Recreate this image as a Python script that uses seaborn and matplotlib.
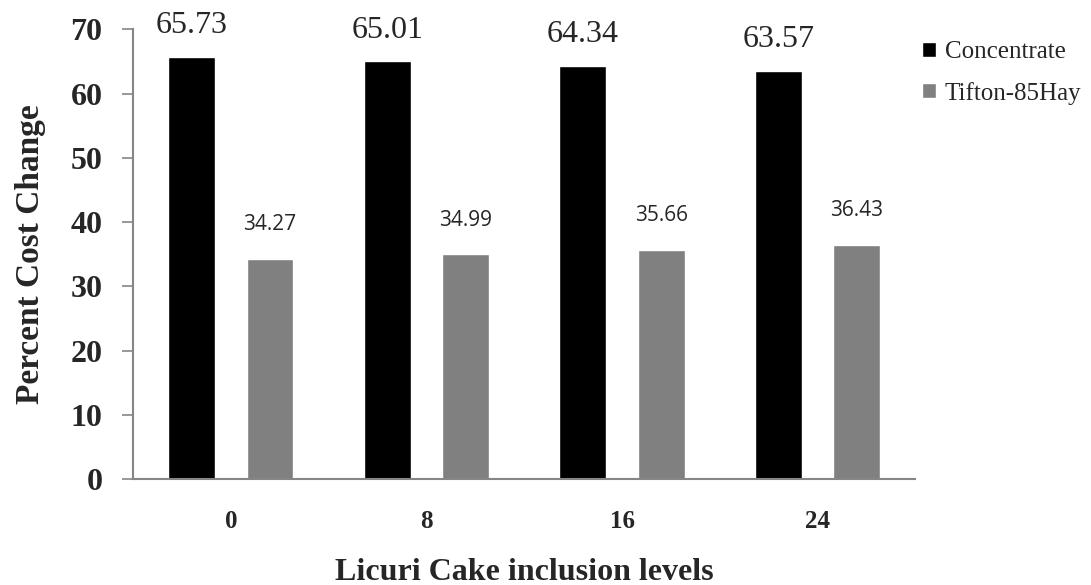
import pandas as pd
import seaborn as sns
import matplotlib.pyplot as plt

levels = ['0', '8', '16', '24']
concentrate = [65.73, 65.01, 64.34, 63.57]
tifton = [34.27, 34.99, 35.66, 36.43]
series = ['Concentrate', 'Tifton-85Hay']

df = pd.DataFrame({
    'level': levels * 2,
    'value': concentrate + tifton,
    'serie': [series[0]] * 4 + [series[1]] * 4,
})

sns.set_style('white')
plt.rcParams['font.family'] = ['Liberation Serif', 'DejaVu Serif']

fig = plt.figure(figsize=(10.91, 5.85), dpi=100)
ax = fig.add_axes([0.122, 0.181, 0.717, 0.769])

sns.barplot(data=df, x='level', y='value', hue='serie', order=levels,
            hue_order=series, palette=['#000000', '#808080'],
            width=0.8, gap=0.4, saturation=1, errorbar=None, ax=ax)

# value labels
ax.bar_label(ax.containers[0], labels=[f'{v:.2f}' for v in concentrate],
             padding=12, fontsize=23)
ax.bar_label(ax.containers[1], labels=[f'{v:.2f}' for v in tifton],
             padding=17, fontsize=15, family='Open Sans')

ax.set_ylim(0, 70)
ax.set_xlim(-0.5, 3.5)
ax.set_yticks(range(0, 71, 10))
ax.set_yticklabels([str(t) for t in range(0, 71, 10)], fontsize=23, fontweight='bold')
ax.set_xticks([0, 1, 2, 3])
ax.set_xticklabels(levels, fontsize=18, fontweight='bold')
ax.set_xticks([-0.5, 0.5, 1.5, 2.5, 3.5], minor=True)
ax.tick_params(axis='x', which='major', length=0, pad=22)
ax.tick_params(axis='x', which='minor', length=6, color='#868686', width=1.2, direction='out')
ax.tick_params(axis='y', length=8, color='#868686', width=1.2, direction='out', left=True, pad=14)

for s in ['top', 'right']:
    ax.spines[s].set_visible(False)
for s in ['left', 'bottom']:
    ax.spines[s].set_color('#868686')
    ax.spines[s].set_linewidth(1.5)

ax.set_ylabel('Percent Cost Change', fontsize=24, fontweight='bold', labelpad=18)
ax.set_xlabel('Licuri Cake inclusion levels', fontsize=23, fontweight='bold', labelpad=18)

ax.legend(loc='upper left', bbox_to_anchor=(922 / 1091, 0.93),
          bbox_transform=fig.transFigure, frameon=False,
          fontsize=18, handlelength=0.55, handleheight=0.55, handletextpad=0.35,
          labelspacing=0.75, borderpad=0, borderaxespad=0)

fig.savefig('out.png', dpi=100)
